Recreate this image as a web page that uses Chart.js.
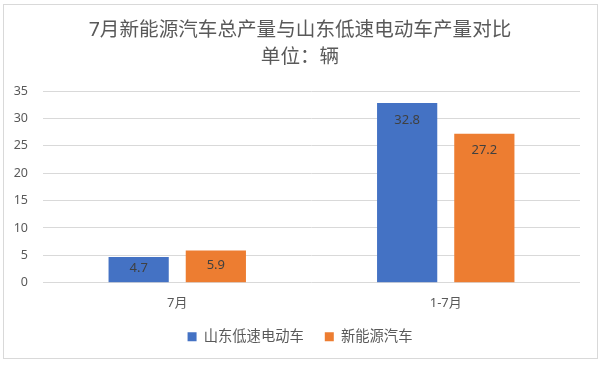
<!DOCTYPE html>
<html>
<head>
<meta charset="utf-8">
<script src="https://cdn.jsdelivr.net/npm/chart.js@4"></script>
<style>
html,body{margin:0;padding:0;background:#fff;}
#wrap{width:600px;height:365px;}
</style>
</head>
<body>
<div id="wrap"><canvas id="c" width="600" height="365"></canvas></div>
<script>
const categories = ["7月", "1-7月"];
const seriesNames = ["山东低速电动车", "新能源汽车"];
const lowSpeedEV = [4.7, 32.8];
const newEnergy = [5.9, 27.2];
const titleLines = ["7月新能源汽车总产量与山东低速电动车产量对比", "单位：辆"];
const yTicks = [0, 5, 10, 15, 20, 25, 30, 35];

const FONT = '"Noto Sans", "Noto Sans CJK SC", sans-serif';

const borderPlugin = {
  id: 'outerBorder',
  beforeDraw(chart) {
    const ctx = chart.ctx;
    ctx.save();
    ctx.fillStyle = '#ffffff';
    ctx.fillRect(0, 0, chart.width, chart.height);
    ctx.strokeStyle = '#d9d9d9';
    ctx.lineWidth = 1;
    ctx.strokeRect(3.5, 4.5, 594, 354);
    ctx.restore();
  }
};

const labelPlugin = {
  id: 'barLabels',
  afterDatasetsDraw(chart) {
    const ctx = chart.ctx;
    ctx.save();
    ctx.font = '13px ' + FONT;
    ctx.fillStyle = '#404040';
    ctx.textAlign = 'center';
    ctx.textBaseline = 'middle';
    chart.data.datasets.forEach((ds, di) => {
      const meta = chart.getDatasetMeta(di);
      meta.data.forEach((bar, i) => {
        const mid = (bar.y + bar.base) / 2 - 1;
        const y = Math.min(bar.y + 17, mid);
        ctx.fillText(ds.data[i].toFixed(1), bar.x, y);
      });
    });
    ctx.restore();
  }
};

new Chart(document.getElementById('c'), {
  type: 'bar',
  data: {
    labels: categories,
    datasets: [
      { label: seriesNames[0], data: lowSpeedEV, backgroundColor: '#4472C4', borderWidth: 0 },
      { label: seriesNames[1], data: newEnergy, backgroundColor: '#ED7D31', borderWidth: 0 }
    ]
  },
  options: {
    responsive: false,
    animation: false,
    devicePixelRatio: 1,
    layout: { padding: { left: 0, right: 0, top: 0, bottom: 11 } },
    datasets: { bar: { categoryPercentage: 0.575, barPercentage: 0.78 } },
    plugins: {
      title: {
        display: true,
        text: titleLines,
        color: '#595959',
        font: { family: FONT, size: 19.6, weight: 'normal', lineHeight: 1.41 },
        padding: { top: 16.2, bottom: 19.6 }
      },
      legend: {
        display: true,
        position: 'bottom',
        labels: {
          boxWidth: 9,
          boxHeight: 9,
          padding: 21,
          color: '#595959',
          font: { family: FONT, size: 14.3 }
        }
      },
      tooltip: { enabled: false }
    },
    scales: {
      x: {
        grid: { display: false, drawTicks: false },
        border: { display: false },
        ticks: { color: '#595959', font: { family: FONT, size: 13 }, padding: 13 },
        afterFit(s) { s.height = 26; }
      },
      y: {
        min: 0,
        max: 35,
        afterBuildTicks(s) { s.ticks = yTicks.map(v => ({ value: v })); },
        grid: { color: '#d9d9d9', drawTicks: false, lineWidth: 1 },
        border: { display: false },
        ticks: { color: '#595959', font: { family: FONT, size: 12.5 }, padding: 15 },
        afterFit(s) { s.width = 43; }
      },
      yRightSpace: {
        type: 'linear',
        position: 'right',
        min: 0,
        max: 35,
        grid: { display: false, drawTicks: false },
        border: { display: false },
        ticks: { display: false },
        afterFit(s) { s.width = 20; }
      }
    }
  },
  plugins: [borderPlugin, labelPlugin]
});
</script>
</body>
</html>
